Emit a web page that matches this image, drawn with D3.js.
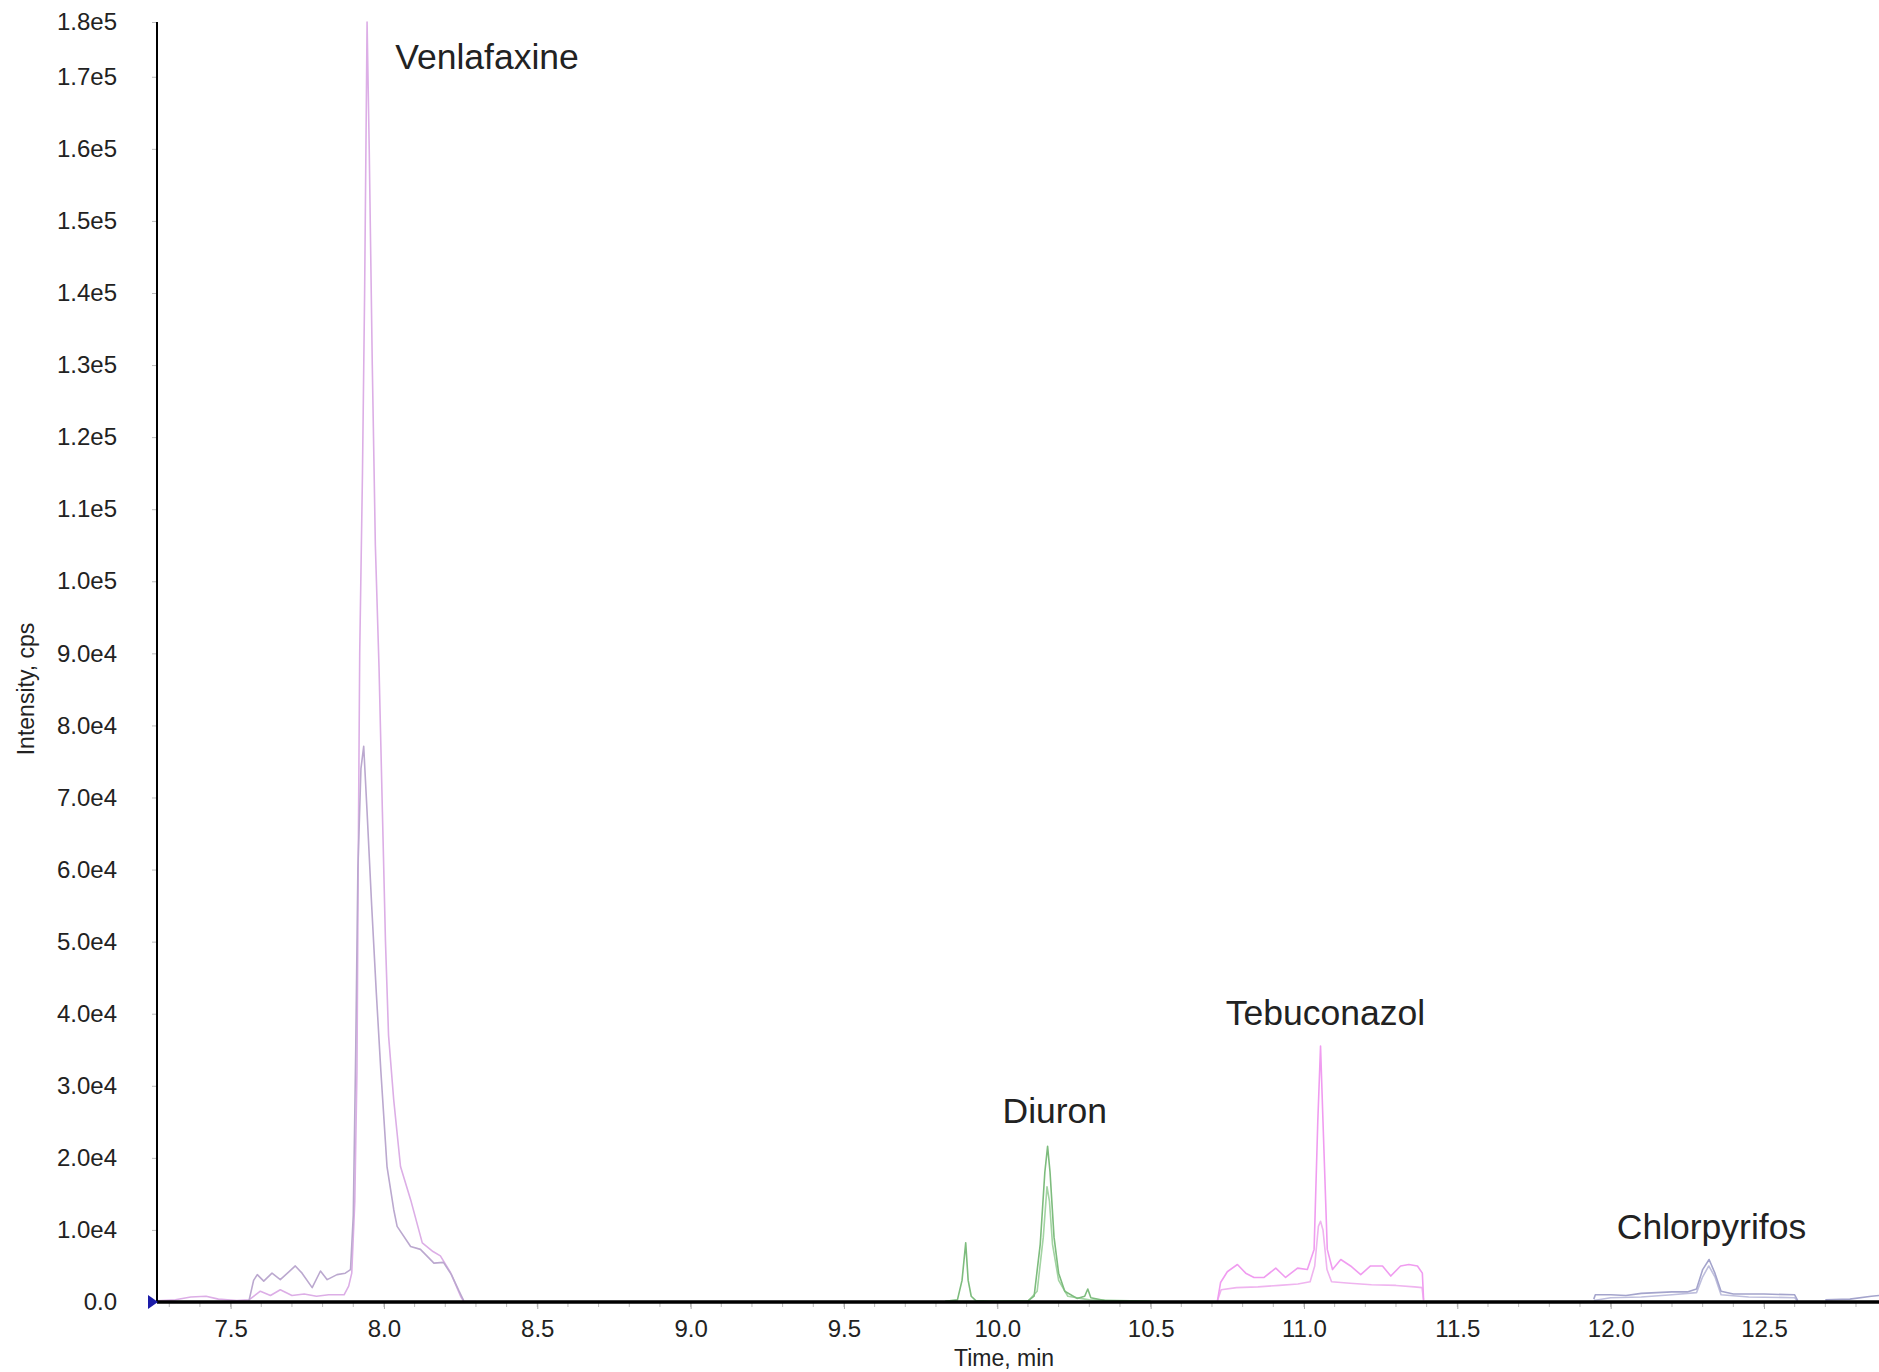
<!DOCTYPE html>
<html lang="en">
<head>
  <meta charset="UTF-8">
  <title>XIC chromatogram</title>
  <script src="https://d3js.org/d3.v7.min.js"></script>
  <style>
    body { margin: 0; background: #fff; }
    svg { display: block; font-family: "Liberation Sans", Arial, sans-serif; }
    .tick text { fill: #222; font-size: 24px; }
    .peak-label { fill: #222; font-size: 35.5px; }
    .axis-title { fill: #222; font-size: 23px; }
  </style>
</head>
<body>
  <div id="vis"></div>

  <script>
    // Time (min), intensity (cps) pairs
    const venlafaxineA = [
      [7.26, 150], [7.32, 300], [7.37, 700], [7.42, 800], [7.46, 400], [7.52, 200],
      [7.56, 300], [7.597, 1500], [7.63, 900], [7.662, 1700], [7.70, 900], [7.74, 1100],
      [7.78, 800], [7.82, 1000], [7.87, 1000], [7.885, 2200], [7.895, 4000], [7.905, 14000],
      [7.912, 32000], [7.916, 60000], [7.921, 90000], [7.93, 115000], [7.937, 140000],
      [7.945, 177600], [7.952, 160000], [7.962, 130000], [7.972, 105000], [7.984, 88000],
      [7.995, 68000], [8.005, 50000], [8.015, 37000], [8.032, 28000], [8.054, 18800],
      [8.087, 14200], [8.125, 8200], [8.16, 7000], [8.184, 6400], [8.217, 4100],
      [8.25, 800], [8.26, 100], [8.30, 50]
    ];
    const venlafaxineB = [
      [7.56, 200], [7.575, 3000], [7.587, 3800], [7.608, 2900], [7.635, 4000], [7.662, 3100],
      [7.711, 5000], [7.733, 4000], [7.766, 2000], [7.793, 4300], [7.815, 3100], [7.847, 3800],
      [7.874, 4000], [7.891, 4500], [7.90, 12000], [7.908, 35000], [7.915, 60000],
      [7.925, 74000], [7.934, 77100], [7.945, 68000], [7.96, 55000], [7.975, 43000],
      [7.99, 32000], [8.01, 18800], [8.032, 12800], [8.043, 10500], [8.087, 7700],
      [8.119, 7300], [8.163, 5400], [8.194, 5500], [8.22, 3800], [8.245, 1500], [8.26, 200]
    ];
    const diuronA = [
      [9.83, 100], [9.87, 300], [9.885, 3000], [9.897, 8200], [9.905, 3000], [9.915, 800],
      [9.93, 200], [10.0, 100], [10.10, 150], [10.12, 800], [10.14, 8000], [10.155, 18000],
      [10.164, 21600], [10.172, 18000], [10.185, 9000], [10.20, 4000], [10.22, 1500],
      [10.26, 500], [10.285, 800], [10.295, 1800], [10.305, 600], [10.35, 200], [10.5, 100]
    ];
    const diuronB = [
      [9.83, 50], [10.10, 100], [10.13, 1500], [10.15, 9000], [10.162, 16000], [10.17, 14000],
      [10.18, 8000], [10.20, 3000], [10.23, 800], [10.30, 300], [10.5, 100]
    ];
    const tebuconazolA = [
      [10.718, 200], [10.728, 2700], [10.75, 4200], [10.783, 5200], [10.81, 4000], [10.837, 3400],
      [10.87, 3400], [10.908, 4700], [10.94, 3400], [10.979, 4700], [11.011, 4500],
      [11.033, 7300], [11.045, 25000], [11.054, 35500], [11.062, 25000], [11.076, 7300],
      [11.093, 4500], [11.12, 5900], [11.152, 5000], [11.185, 3800], [11.217, 5000],
      [11.256, 5000], [11.283, 3600], [11.315, 5000], [11.342, 5200], [11.37, 5000],
      [11.386, 4000], [11.39, 300]
    ];
    const tebuconazolB = [
      [10.718, 200], [10.73, 1700], [10.78, 2000], [10.85, 2100], [10.92, 2300], [10.98, 2500],
      [11.02, 2800], [11.035, 5000], [11.047, 10500], [11.054, 11200], [11.062, 10000],
      [11.075, 4500], [11.09, 2800], [11.15, 2600], [11.22, 2400], [11.30, 2300],
      [11.36, 2100], [11.385, 2000], [11.39, 200]
    ];
    const chlorpyrifosA = [
      [11.945, 400], [11.95, 1000], [12.0, 1000], [12.05, 900], [12.1, 1200], [12.15, 1300],
      [12.2, 1400], [12.25, 1400], [12.28, 1800], [12.30, 4500], [12.321, 5900], [12.34, 4000],
      [12.36, 1500], [12.4, 1100], [12.5, 1100], [12.6, 1000], [12.61, 200]
    ];
    const chlorpyrifosB = [
      [11.945, 200], [12.0, 600], [12.1, 700], [12.2, 1000], [12.28, 1300], [12.30, 3500],
      [12.32, 5000], [12.34, 3500], [12.36, 1000], [12.45, 700], [12.6, 600], [12.61, 100]
    ];
    const chlorpyrifosTail = [[12.70, 300], [12.78, 400], [12.85, 800], [12.875, 900]];

    const series = [
      { data: venlafaxineA, color: "#dcaee6" },
      { data: venlafaxineB, color: "#bba8cf" },
      { data: diuronB, color: "#a3d4a3" },
      { data: diuronA, color: "#7dbc7d" },
      { data: tebuconazolB, color: "#efb4ef" },
      { data: tebuconazolA, color: "#f09cf0" },
      { data: chlorpyrifosB, color: "#bfbfdd" },
      { data: chlorpyrifosA, color: "#a4a4cc" },
      { data: chlorpyrifosTail, color: "#a4a4cc" }
    ];

    const peakLabels = [
      { name: "Venlafaxine", t: 8.037, i: 171100 },
      { name: "Diuron", t: 10.017, i: 24900 },
      { name: "Tebuconazol", t: 10.745, i: 38500 },
      { name: "Chlorpyrifos", t: 12.02, i: 8800 }
    ];

    const xTicks = [7.5, 8.0, 8.5, 9.0, 9.5, 10.0, 10.5, 11.0, 11.5, 12.0, 12.5];
    const yMax = 177600;
    const yTicks = d3.range(0, 170001, 10000).concat([yMax]);

    const width = 1879, height = 1372;
    const svg = d3.select("#vis").append("svg")
      .attr("width", width)
      .attr("height", height);

    const x = d3.scaleLinear().domain([7.26, 12.875]).range([157, 1879]);
    const y = d3.scaleLinear().domain([0, yMax]).range([1302, 22]);

    const fmt = v => v === 0 ? "0.0" : v.toExponential(1).replace("+", "");

    // traces
    const line = d3.line().x(d => x(d[0])).y(d => y(d[1]));
    series.forEach(s => {
      svg.append("path")
        .datum(s.data)
        .attr("fill", "none")
        .attr("stroke", s.color)
        .attr("stroke-width", 1.6)
        .attr("stroke-linejoin", "round")
        .attr("d", line);
    });

    // minor x ticks
    svg.append("g")
      .selectAll("line")
      .data(d3.range(7.3, 12.85, 0.1))
      .enter().append("line")
      .attr("x1", d => x(d)).attr("x2", d => x(d))
      .attr("y1", 1302).attr("y2", 1307)
      .attr("stroke", "#bbb");

    // x axis
    const xAxis = svg.append("g")
      .attr("transform", `translate(0,${y(0)})`)
      .call(d3.axisBottom(x).tickValues(xTicks).tickSize(7).tickPadding(11).tickFormat(d3.format(".1f")));
    xAxis.select(".domain").remove();
    xAxis.selectAll(".tick line").attr("stroke", "#aaa");
    svg.append("line")
      .attr("x1", x(7.26)).attr("x2", x(12.875))
      .attr("y1", y(0)).attr("y2", y(0))
      .attr("stroke", "#000").attr("stroke-width", 3.5);

    // y axis
    const yAxis = svg.append("g")
      .attr("transform", `translate(${x(7.26)},0)`)
      .call(d3.axisLeft(y).tickValues(yTicks).tickSize(5).tickPadding(35).tickFormat(fmt));
    yAxis.select(".domain").remove();
    yAxis.selectAll(".tick line").attr("stroke", "#bbb");
    svg.append("line")
      .attr("x1", x(7.26)).attr("x2", x(7.26))
      .attr("y1", y(yMax)).attr("y2", y(0))
      .attr("stroke", "#000").attr("stroke-width", 2);

    // origin marker
    const ox = x(7.26), oy = y(0);
    svg.append("path")
      .attr("d", `M${ox - 9},${oy - 7}L${ox + 1},${oy}L${ox - 9},${oy + 7}Z`)
      .attr("fill", "#1c1ca8");

    // axis titles
    svg.append("text")
      .attr("class", "axis-title")
      .attr("x", 1004).attr("y", 1366)
      .attr("text-anchor", "middle")
      .text("Time, min");

    svg.append("text")
      .attr("class", "axis-title")
      .attr("transform", "translate(34,689) rotate(-90)")
      .attr("text-anchor", "middle")
      .text("Intensity, cps");

    // peak labels
    svg.append("g")
      .selectAll("text")
      .data(peakLabels)
      .enter().append("text")
      .attr("class", "peak-label")
      .attr("x", d => x(d.t))
      .attr("y", d => y(d.i))
      .text(d => d.name);
  </script>
</body>
</html>
